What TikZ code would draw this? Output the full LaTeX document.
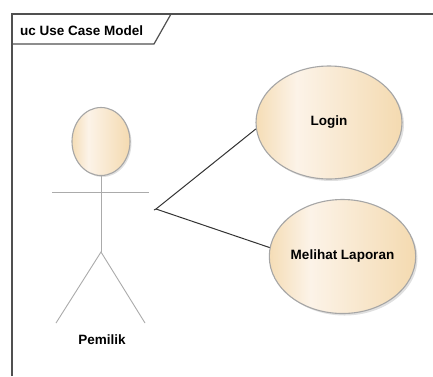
\documentclass[tikz,border=0pt]{standalone}
\usepackage{fontspec}
\setmainfont{Liberation Sans}
\usetikzlibrary{shapes.geometric}
\definecolor{ucEdge}{HTML}{F5DDB6}
\definecolor{ucMid}{HTML}{FCF3E8}
\definecolor{ucEdgeR}{HTML}{F4DAB0}
\definecolor{ucBorder}{HTML}{A6A6A6}
\definecolor{frameLine}{HTML}{505050}
\definecolor{stickLine}{HTML}{ABABAB}
\definecolor{assocLine}{HTML}{333333}
% horizontal fill: lightest band about a third in from the left
\pgfdeclarehorizontalshading{ucfill}{100bp}{
  color(0bp)=(ucEdge); color(25bp)=(ucEdge); color(39bp)=(ucMid);
  color(75bp)=(ucEdgeR); color(100bp)=(ucEdgeR)}
\tikzset{
  ucfont/.style={font=\fontsize{13.5}{16}\selectfont\bfseries},
  usecase/.style={ellipse, draw=ucBorder, line width=1.1pt,
    shading=ucfill, inner sep=0pt, ucfont},
  shadowcase/.style={ellipse, fill=black, opacity=0.12, draw=none, inner sep=0pt},
  stick/.style={draw=stickLine, line width=0.9pt},
  assoc/.style={draw=assocLine, line width=1pt},
  framestyle/.style={draw=frameLine, line width=1.2pt},
}
\begin{document}
\begin{tikzpicture}[x=1pt,y=-1pt]
  \useasboundingbox (0,0) rectangle (433,376);
  \fill[white] (0,0) rectangle (433,376);

  % diagram frame and its name tab
  \draw[framestyle] (12,376) -- (12,14) -- (433,14);
  \draw[framestyle] (12,44) -- (154,44) -- (171,14);
  \node[ucfont, anchor=base west, inner sep=0pt] (title) at (20,35) {uc Use Case Model};

  % actor
  \node[shadowcase, minimum width=58pt, minimum height=68pt] at (102.5,143) {};
  \node[usecase, minimum width=58pt, minimum height=68pt] (head) at (101,141.5) {};
  \coordinate (hip) at (101,252);
  \coordinate (armL) at (52,192);
  \coordinate (armR) at (149,192);
  \coordinate (footL) at (56,323);
  \coordinate (footR) at (145,323);
  \draw[stick] (head.south) -- (hip);
  \draw[stick] (armL) -- (armR);
  \draw[stick] (footL) -- (hip) -- (footR);
  \node[ucfont, inner sep=0pt] (actor) at (102,340) {Pemilik};

  % use cases
  \node[shadowcase, minimum width=146pt, minimum height=113pt] at (331,124.5) {};
  \node[usecase, minimum width=146pt, minimum height=113pt] (login) at (329,122.5) {Login};
  \node[shadowcase, minimum width=146pt, minimum height=114pt] at (344.5,258.5) {};
  \node[usecase, minimum width=146pt, minimum height=114pt] (laporan) at (342.5,256.5) {Melihat Laporan};

  % associations
  \coordinate (hub) at (156,209);
  \draw[assoc] (hub) -- (login.185);
  \draw[assoc] (hub) -- (laporan.173);
  \draw[assoc] (hub) -- ++(-2,1);
\end{tikzpicture}
\end{document}
